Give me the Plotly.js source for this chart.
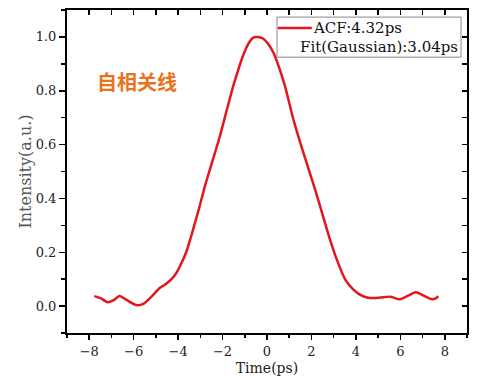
<!DOCTYPE html>
<html>
<head>
<meta charset="utf-8">
<script src="https://cdn.plot.ly/plotly-3.0.1.min.js"></script>
<style>html,body{margin:0;padding:0;background:#fff;}#chart{width:479px;height:381px;}</style>
</head>
<body>
<div id="chart"></div>
<script>
// Time (ps)
const timePs = [-7.77, -7.45, -7.17, -6.9, -6.64, -6.3, -5.89, -5.59, -5.2, -4.84, -4.55, -4.31, -4.1, -3.93, -3.63, -3.33, -3.05, -2.80, -2.45, -2.12, -1.82, -1.52, -1.3, -1.14, -0.95, -0.77, -0.6, -0.42, -0.2, 0.05, 0.29, 0.55, 0.81, 1.19, 1.64, 2.17, 2.5, 2.85, 3.15, 3.53, 3.90, 4.2, 4.51, 4.8, 5.11, 5.56, 5.94, 6.31, 6.69, 6.9, 7.14, 7.44, 7.62, 7.70];
// Normalized intensity (a.u.)
const intensity = [0.037, 0.028, 0.014, 0.022, 0.037, 0.022, 0.004, 0.007, 0.035, 0.066, 0.082, 0.099, 0.12, 0.146, 0.202, 0.283, 0.365, 0.444, 0.54, 0.631, 0.725, 0.817, 0.876, 0.916, 0.956, 0.984, 0.998, 1.0, 0.995, 0.975, 0.941, 0.885, 0.817, 0.693, 0.569, 0.432, 0.34, 0.243, 0.171, 0.097, 0.060, 0.042, 0.032, 0.030, 0.032, 0.035, 0.025, 0.037, 0.051, 0.045, 0.035, 0.025, 0.030, 0.037];
const xTicks = [-8, -6, -4, -2, 0, 2, 4, 6, 8];
const yTicks = [0.0, 0.2, 0.4, 0.6, 0.8, 1.0];
const legendLabels = ["ACF:4.32ps", "Fit(Gaussian):3.04ps"];
const noteText = "自相关线";

const serif = "DejaVu Serif, serif";
const red = "#e3161b";

const traces = [
  {x: timePs, y: intensity, type: "scatter", mode: "lines", line: {color: red, width: 2.5, shape: "spline", smoothing: 0.7}, showlegend: false, hoverinfo: "skip"},
  {x: timePs, y: intensity, xaxis: "x2", yaxis: "y2", type: "scatter", mode: "lines", line: {color: "rgba(0,0,0,0)", width: 0}, showlegend: false, hoverinfo: "skip"}
];

const layout = {
  width: 479, height: 381,
  margin: {l: 67, r: 12, t: 10, b: 48},
  paper_bgcolor: "#fff", plot_bgcolor: "#fff",
  font: {family: serif, size: 13, color: "#222"},
  xaxis: {
    range: [-9, 9], tickvals: xTicks, ticktext: xTicks.map(v => (v < 0 ? "\u2212" : "") + Math.abs(v)),
    ticks: "outside", ticklen: 5, tickwidth: 1.5, tickcolor: "#000",
    minor: {dtick: 1, tick0: 0, ticks: "outside", ticklen: 3, tickwidth: 1.5, tickcolor: "#000"},
    showline: true, linewidth: 2, linecolor: "#000", showgrid: false, zeroline: false,
    tickfont: {family: serif, size: 13, color: "#222"},
    title: {text: "Time(ps)", font: {family: serif, size: 14, color: "#222"}, standoff: 6}
  },
  yaxis: {
    range: [-0.1, 1.1], tickvals: yTicks, ticktext: yTicks.map(v => v.toFixed(1)),
    ticks: "outside", ticklen: 6, tickwidth: 1.5, tickcolor: "#000",
    minor: {dtick: 0.1, tick0: 0, ticks: "outside", ticklen: 4, tickwidth: 1.5, tickcolor: "#000"},
    showline: true, linewidth: 2, linecolor: "#000", showgrid: false, zeroline: false,
    tickfont: {family: serif, size: 13, color: "#222"},
    title: {text: "Intensity(a.u.)", font: {family: serif, size: 16, color: "#555"}, standoff: 0}
  },
  xaxis2: {
    overlaying: "x", side: "top", anchor: "y", range: [-9, 9], dtick: 1, tick0: 0,
    ticks: "inside", ticklen: 5, tickwidth: 1.5, tickcolor: "#000", showticklabels: false,
    showline: true, linewidth: 2, linecolor: "#000", showgrid: false, zeroline: false
  },
  yaxis2: {
    overlaying: "y", side: "right", anchor: "x", range: [-0.1, 1.1], dtick: 0.1, tick0: 0,
    ticks: "inside", ticklen: 5, tickwidth: 1.5, tickcolor: "#000", showticklabels: false,
    showline: true, linewidth: 2, linecolor: "#000", showgrid: false, zeroline: false
  },
  shapes: [
    {type: "rect", xref: "paper", yref: "paper", x0: 0.525, x1: 0.985, y0: 0.854, y1: 0.978, line: {color: "#888", width: 1}, fillcolor: "#fff", layer: "above"},
    {type: "line", xref: "paper", yref: "paper", x0: 0.527, x1: 0.612, y0: 0.944, y1: 0.944, line: {color: red, width: 2.5}, layer: "above"}
  ],
  annotations: [
    {xref: "paper", yref: "paper", x: 0.61, y: 0.944, xanchor: "left", yanchor: "middle", text: legendLabels[0], showarrow: false, font: {family: serif, size: 15, color: "#111"}},
    {xref: "paper", yref: "paper", x: 0.578, y: 0.886, xanchor: "left", yanchor: "middle", text: legendLabels[1], showarrow: false, font: {family: serif, size: 15, color: "#111"}},
    {xref: "paper", yref: "paper", x: 0.07, y: 0.78, xanchor: "left", yanchor: "middle", text: "<b>" + noteText + "</b>", showarrow: false, font: {family: "Noto Sans CJK SC", size: 20, color: "#e8731c"}}
  ]
};

Plotly.newPlot("chart", traces, layout, {staticPlot: true, displayModeBar: false});
</script>
</body>
</html>
